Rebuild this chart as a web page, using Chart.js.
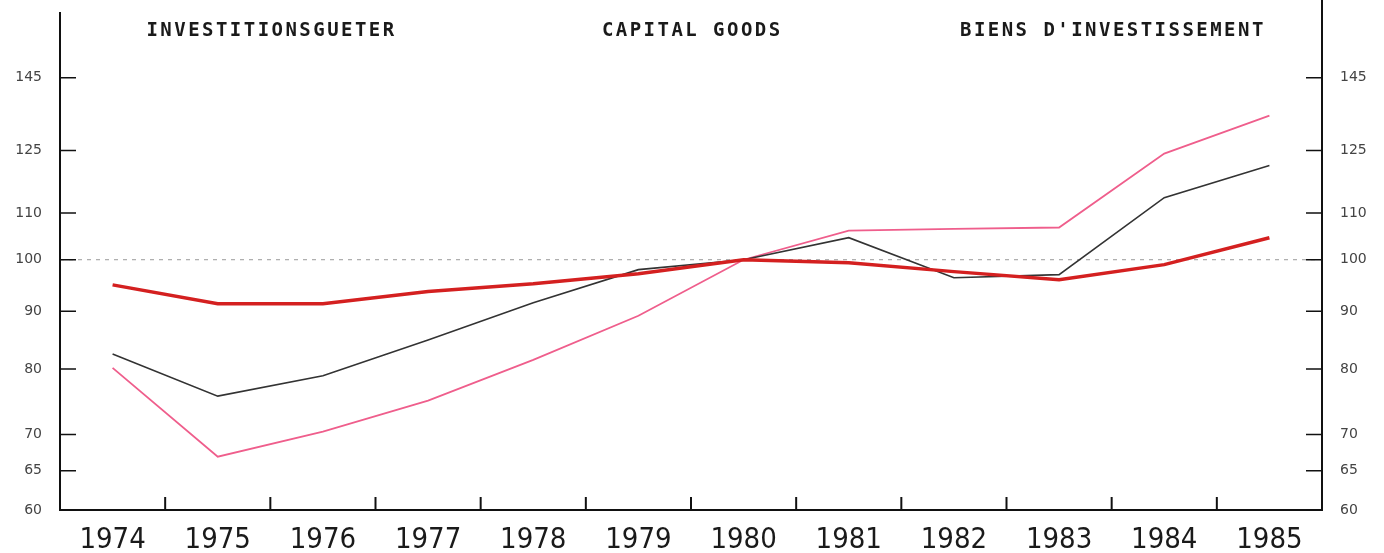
<!DOCTYPE html>
<html>
<head>
<meta charset="utf-8">
<script src="https://cdn.jsdelivr.net/npm/chart.js@4.4.1/dist/chart.umd.min.js"></script>
<style>
  html, body { margin: 0; padding: 0; background: #fff; }
  #wrap { width: 1384px; height: 553px; position: relative; }
</style>
</head>
<body>
<div id="wrap"><canvas id="chart"></canvas></div>
<script>
// data (index, 1980 = 100, log scale)
const years = ['1974', '1975', '1976', '1977', '1978', '1979', '1980', '1981', '1982', '1983', '1984', '1985'];
const redValues = [95.0, 91.4, 91.4, 93.7, 95.2, 97.2, 100, 99.4, 97.6, 96.0, 99.0, 104.6];
const blackValues = [82.5, 75.7, 78.9, 84.9, 91.6, 98.0, 100, 104.6, 96.4, 97.0, 113.5, 121.2];
const pinkValues = [80.2, 66.9, 70.4, 75.0, 81.5, 89.2, 100, 106.1, 106.5, 106.8, 124.2, 134.2];
const yTicks = [60, 65, 70, 80, 90, 100, 110, 125, 145];
const baseLine = 100;
const titles = ['INVESTITIONSGUETER', 'CAPITAL GOODS', "BIENS D'INVESTISSEMENT"];

const framePlugin = {
    id: 'frame',
    beforeDatasetsDraw(chart) {
        const { ctx, chartArea: a, scales } = chart;
        const y = scales.y.getPixelForValue(baseLine);
        ctx.save();
        ctx.strokeStyle = '#999';
        ctx.lineWidth = 1;
        ctx.setLineDash([4, 5]);
        ctx.beginPath();
        ctx.moveTo(a.left, y);
        ctx.lineTo(a.right, y);
        ctx.stroke();
        ctx.restore();
    },
    afterDraw(chart) {
        const { ctx, chartArea: a, scales } = chart;
        ctx.save();
        ctx.strokeStyle = '#111';
        ctx.lineWidth = 2;
        // frame: left, bottom, right
        ctx.beginPath();
        ctx.moveTo(a.left, 12);
        ctx.lineTo(a.left, a.bottom);
        ctx.lineTo(a.right, a.bottom);
        ctx.lineTo(a.right, 0);
        ctx.stroke();
        // y tick marks inside the frame
        ctx.lineWidth = 1.5;
        for (const v of yTicks) {
            const py = scales.y.getPixelForValue(v);
            ctx.beginPath();
            ctx.moveTo(a.left, py);
            ctx.lineTo(a.left + 16, py);
            ctx.moveTo(a.right, py);
            ctx.lineTo(a.right - 16, py);
            ctx.stroke();
        }
        // x tick marks between years
        ctx.lineWidth = 2;
        for (let i = 1; i < years.length; i++) {
            const px = (scales.x.getPixelForValue(i - 1) + scales.x.getPixelForValue(i)) / 2;
            ctx.beginPath();
            ctx.moveTo(px, a.bottom);
            ctx.lineTo(px, a.bottom - 13);
            ctx.stroke();
        }
        // titles, monospaced, centred on year boundaries
        ctx.fillStyle = '#1a1a1a';
        ctx.font = 'bold 19px "DejaVu Sans Mono", "Liberation Mono", monospace';
        ctx.textBaseline = 'middle';
        ctx.textAlign = 'center';
        const centres = [2, 6, 10].map(i => (scales.x.getPixelForValue(i - 1) + scales.x.getPixelForValue(i)) / 2);
        const pitch = 13.9;
        titles.forEach((t, k) => {
            const start = centres[k] - (t.length - 1) * pitch / 2;
            for (let c = 0; c < t.length; c++) {
                ctx.fillText(t[c], start + c * pitch, 31);
            }
        });
        ctx.restore();
    }
};

const yScale = (pos) => ({
    type: 'logarithmic',
    position: pos,
    min: 60,
    max: 161,
    afterBuildTicks: (scale) => { scale.ticks = yTicks.map(v => ({ value: v })); },
    afterFit: (scale) => { scale.width = pos === 'left' ? 60 : 62; },
    grid: { drawOnChartArea: false, drawTicks: false },
    border: { display: false },
    ticks: {
        padding: 18,
        color: '#444',
        font: { family: 'DejaVu Sans', size: 14 },
        callback: (v) => String(v)
    }
});

new Chart(document.getElementById('chart').getContext('2d'), {
    type: 'line',
    data: {
        labels: years,
        datasets: [
            { label: 'red', data: redValues, borderColor: '#d42020', borderWidth: 3.5, yAxisID: 'y' },
            { label: 'black', data: blackValues, borderColor: '#333', borderWidth: 1.6, yAxisID: 'y' },
            { label: 'pink', data: pinkValues, borderColor: '#ef5e8c', borderWidth: 1.8, yAxisID: 'y' }
        ]
    },
    options: {
        responsive: true,
        maintainAspectRatio: false,
        animation: false,
        layout: { padding: { top: 10, left: 0, right: 0, bottom: 0 } },
        elements: { point: { radius: 0 }, line: { tension: 0 } },
        plugins: { legend: { display: false }, tooltip: { enabled: false } },
        scales: {
            x: {
                type: 'category',
                offset: true,
                grid: { display: false, offset: true },
                border: { display: false },
                afterFit: (scale) => { scale.height = 43; },
                ticks: {
                    padding: 5,
                    color: '#1a1a1a',
                    maxRotation: 0,
                    font: { family: '"Liberation Sans Narrow", "DejaVu Sans Condensed", sans-serif', size: 29 }
                }
            },
            y: yScale('left'),
            y2: yScale('right')
        }
    },
    plugins: [framePlugin]
});
</script>
</body>
</html>
